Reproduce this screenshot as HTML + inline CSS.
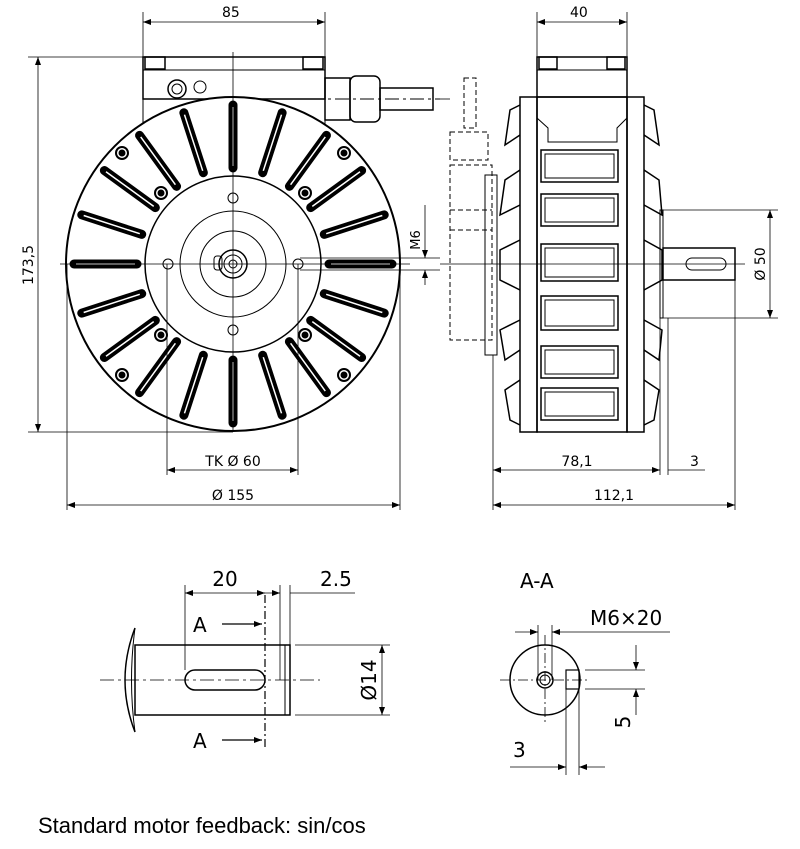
<!DOCTYPE html>
<html><head><style>
body{margin:0;background:#fff;}
svg{display:block;font-family:"DejaVu Sans","Liberation Sans",sans-serif;}
</style></head><body>
<svg width="800" height="849" viewBox="0 0 800 849" xmlns="http://www.w3.org/2000/svg">
<defs>
<marker id="a" markerWidth="8" markerHeight="6" refX="8" refY="3" orient="auto-start-reverse" markerUnits="userSpaceOnUse"><path d="M0,0 L8,3 L0,6z" fill="#000"/></marker>
</defs>
<g stroke="#000" fill="none" stroke-width="1">
<!-- FRONT VIEW -->
<rect x="143" y="57" width="182" height="42" fill="#fff" stroke-width="1.5"/>
<line x1="143" y1="70" x2="325" y2="70"/>
<rect x="145" y="57" width="20" height="12" stroke-width="1.5"/>
<rect x="303" y="57" width="20" height="12" stroke-width="1.5"/>
<line x1="143" y1="99" x2="143" y2="140"/><line x1="325" y1="99" x2="325" y2="125"/>
<circle cx="177" cy="89" r="9" stroke-width="1.5"/><circle cx="177" cy="89" r="5"/>
<circle cx="200" cy="87" r="6"/>
<rect x="325" y="78" width="25" height="42" stroke-width="1.5"/>
<rect x="350" y="76" width="30" height="46" rx="6" stroke-width="1.5"/>
<rect x="380" y="88" width="53" height="22" stroke-width="1.5"/>
<line x1="310" y1="99" x2="440" y2="99" stroke-dasharray="14,4,3,4"/>
<circle cx="233" cy="264" r="167" fill="#fff" stroke-width="2"/>
<circle cx="233" cy="264" r="88" stroke-width="1.5"/>
<circle cx="233" cy="264" r="53"/>
<circle cx="233" cy="264" r="33"/>
<circle cx="233" cy="264" r="14" stroke-width="1.5"/><circle cx="233" cy="264" r="9"/><circle cx="233" cy="264" r="4"/>
<rect x="214" y="256" width="8" height="14" rx="3"/>
<g id="fin"><line x1="233" y1="168" x2="233" y2="105" stroke-width="9" stroke-linecap="round"/><line x1="233" y1="166" x2="233" y2="107" stroke="#fff" stroke-width="1.5"/></g>
<use href="#fin" transform="rotate(18 233 264)"/><use href="#fin" transform="rotate(36 233 264)"/><use href="#fin" transform="rotate(54 233 264)"/><use href="#fin" transform="rotate(72 233 264)"/><use href="#fin" transform="rotate(90 233 264)"/><use href="#fin" transform="rotate(108 233 264)"/><use href="#fin" transform="rotate(126 233 264)"/><use href="#fin" transform="rotate(144 233 264)"/><use href="#fin" transform="rotate(162 233 264)"/><use href="#fin" transform="rotate(180 233 264)"/><use href="#fin" transform="rotate(198 233 264)"/><use href="#fin" transform="rotate(216 233 264)"/><use href="#fin" transform="rotate(234 233 264)"/><use href="#fin" transform="rotate(252 233 264)"/><use href="#fin" transform="rotate(270 233 264)"/><use href="#fin" transform="rotate(288 233 264)"/><use href="#fin" transform="rotate(306 233 264)"/><use href="#fin" transform="rotate(324 233 264)"/><use href="#fin" transform="rotate(342 233 264)"/>
<g stroke-width="2">
<circle cx="122" cy="153" r="6"/><circle cx="344" cy="153" r="6"/><circle cx="122" cy="375" r="6"/><circle cx="344" cy="375" r="6"/>
<circle cx="161" cy="193" r="6"/><circle cx="305" cy="193" r="6"/><circle cx="161" cy="335" r="6"/><circle cx="305" cy="335" r="6"/>
</g>
<g fill="#000"><circle cx="122" cy="153" r="3"/><circle cx="344" cy="153" r="3"/><circle cx="122" cy="375" r="3"/><circle cx="344" cy="375" r="3"/><circle cx="161" cy="193" r="3"/><circle cx="305" cy="193" r="3"/><circle cx="161" cy="335" r="3"/><circle cx="305" cy="335" r="3"/></g>
<circle cx="233" cy="198" r="5"/><circle cx="233" cy="330" r="5"/><circle cx="168" cy="264" r="5"/><circle cx="298" cy="264" r="5"/>
<line x1="233" y1="52" x2="233" y2="432" stroke-width="0.8"/>
<line x1="60" y1="264" x2="410" y2="264" stroke-width="0.8"/>
<line x1="143" y1="12" x2="143" y2="57" stroke-width="0.8"/><line x1="325" y1="12" x2="325" y2="57" stroke-width="0.8"/>
<line x1="143" y1="22" x2="325" y2="22" marker-start="url(#a)" marker-end="url(#a)" stroke-width="0.8"/>
<line x1="28" y1="57" x2="143" y2="57" stroke-width="0.8"/><line x1="28" y1="432" x2="233" y2="432" stroke-width="0.8"/>
<line x1="38" y1="57" x2="38" y2="432" marker-start="url(#a)" marker-end="url(#a)" stroke-width="0.8"/>
<line x1="167" y1="264" x2="167" y2="475" stroke-width="0.8"/><line x1="298" y1="264" x2="298" y2="475" stroke-width="0.8"/>
<line x1="167" y1="470" x2="298" y2="470" marker-start="url(#a)" marker-end="url(#a)" stroke-width="0.8"/>
<line x1="67" y1="264" x2="67" y2="510" stroke-width="0.8"/><line x1="400" y1="264" x2="400" y2="510" stroke-width="0.8"/>
<line x1="67" y1="505" x2="400" y2="505" marker-start="url(#a)" marker-end="url(#a)" stroke-width="0.8"/>
<line x1="300" y1="258" x2="440" y2="258" stroke-width="0.8"/><line x1="300" y1="270" x2="440" y2="270" stroke-width="0.8"/>
<line x1="425" y1="205" x2="425" y2="258" marker-end="url(#a)" stroke-width="0.8"/><line x1="425" y1="285" x2="425" y2="270" marker-end="url(#a)" stroke-width="0.8"/>

<!-- SIDE VIEW -->
<g stroke-dasharray="5,3">
<rect x="464" y="78" width="12" height="50"/>
<rect x="450" y="132" width="38" height="28"/>
<rect x="450" y="165" width="42" height="175"/>
<line x1="450" y1="210" x2="492" y2="210"/><line x1="450" y1="230" x2="492" y2="230"/>
</g>
<line x1="440" y1="99" x2="450" y2="99" stroke-width="0.8"/>
<rect x="485" y="175" width="12" height="180"/>
<rect x="537" y="57" width="90" height="40" stroke-width="1.5"/>
<line x1="537" y1="70" x2="627" y2="70"/>
<rect x="539" y="57" width="18" height="12" stroke-width="1.5"/><rect x="607" y="57" width="18" height="12" stroke-width="1.5"/>
<rect x="520" y="97" width="17" height="335" stroke-width="1.5"/>
<rect x="627" y="97" width="17" height="335" stroke-width="1.5"/>
<rect x="537" y="97" width="90" height="335" stroke-width="1.5"/>
<path d="M537 97 V118 L548 128 V142 H617 V128 L627 118 V97"/>
<g stroke-width="1.5">
<rect x="541" y="150" width="77" height="32"/><rect x="541" y="194" width="77" height="32"/><rect x="541" y="244" width="77" height="37"/><rect x="541" y="296" width="77" height="34"/><rect x="541" y="346" width="77" height="32"/><rect x="541" y="388" width="77" height="32"/>
</g>
<g>
<rect x="545" y="154" width="69" height="24"/><rect x="545" y="198" width="69" height="24"/><rect x="545" y="248" width="69" height="29"/><rect x="545" y="300" width="69" height="26"/><rect x="545" y="350" width="69" height="24"/><rect x="545" y="392" width="69" height="24"/>
</g>
<g stroke-width="1.5">
<path d="M520 105 L510 110 L505 145 L520 135 M520 170 L505 180 L500 215 L520 205 M520 240 L500 250 L500 280 L520 290 M520 320 L500 330 L505 360 L520 350 M520 380 L505 390 L510 420 L520 425"/>
<path d="M644 105 L654 110 L659 145 L644 135 M644 170 L659 180 L662 215 L644 205 M644 240 L662 250 L662 280 L644 290 M644 320 L662 330 L659 360 L644 350 M644 380 L659 390 L654 420 L644 425"/>
</g>
<rect x="660" y="210" width="3" height="108"/>
<rect x="663" y="248" width="72" height="32" stroke-width="1.5"/>
<rect x="686" y="258" width="40" height="12" rx="6"/>
<line x1="440" y1="264" x2="745" y2="264" stroke-width="0.8"/>
<line x1="537" y1="12" x2="537" y2="57" stroke-width="0.8"/><line x1="627" y1="12" x2="627" y2="57" stroke-width="0.8"/>
<line x1="537" y1="22" x2="627" y2="22" marker-start="url(#a)" marker-end="url(#a)" stroke-width="0.8"/>
<line x1="663" y1="210" x2="778" y2="210" stroke-width="0.8"/><line x1="663" y1="318" x2="778" y2="318" stroke-width="0.8"/>
<line x1="770" y1="210" x2="770" y2="318" marker-start="url(#a)" marker-end="url(#a)" stroke-width="0.8"/>
<line x1="493" y1="355" x2="493" y2="510" stroke-width="0.8"/><line x1="660" y1="318" x2="660" y2="475" stroke-width="0.8"/><line x1="668" y1="318" x2="668" y2="475" stroke-width="0.8"/><line x1="735" y1="280" x2="735" y2="510" stroke-width="0.8"/>
<line x1="493" y1="470" x2="660" y2="470" marker-start="url(#a)" marker-end="url(#a)" stroke-width="0.8"/>
<line x1="668" y1="470" x2="705" y2="470" stroke-width="0.8"/>
<line x1="493" y1="505" x2="735" y2="505" marker-start="url(#a)" marker-end="url(#a)" stroke-width="0.8"/>

<!-- SHAFT DETAIL -->
<path d="M135 628 Q115 680 135 732" stroke-width="1.5"/>
<path d="M135 628 Q128 680 135 732"/>
<rect x="135" y="645" width="155" height="70" stroke-width="1.5"/>
<line x1="285" y1="645" x2="285" y2="715"/>
<rect x="185" y="670" width="80" height="20" rx="10" stroke-width="1.5"/>
<line x1="100" y1="680" x2="320" y2="680" stroke-dasharray="14,4,3,4" stroke-width="0.8"/>
<line x1="265" y1="595" x2="265" y2="750" stroke-dasharray="8,3,2,3" stroke-width="1.2"/>
<line x1="185" y1="585" x2="185" y2="670" stroke-width="0.8"/><line x1="280" y1="585" x2="280" y2="680" stroke-width="0.8"/><line x1="290" y1="585" x2="290" y2="645" stroke-width="0.8"/>
<line x1="185" y1="593" x2="265" y2="593" marker-start="url(#a)" marker-end="url(#a)" stroke-width="0.8"/>
<line x1="290" y1="593" x2="355" y2="593" stroke-width="0.8"/>
<line x1="260" y1="593" x2="280" y2="593" marker-end="url(#a)" stroke-width="0.8"/>
<line x1="295" y1="645" x2="390" y2="645" stroke-width="0.8"/><line x1="295" y1="715" x2="390" y2="715" stroke-width="0.8"/>
<line x1="382" y1="645" x2="382" y2="715" marker-start="url(#a)" marker-end="url(#a)" stroke-width="0.8"/>
<line x1="222" y1="624" x2="262" y2="624" marker-end="url(#a)" stroke-width="1.2"/>
<line x1="222" y1="740" x2="262" y2="740" marker-end="url(#a)" stroke-width="1.2"/>

<!-- A-A -->
<circle cx="545" cy="680" r="35" stroke-width="1.5"/>
<circle cx="545" cy="680" r="8" stroke-width="1.5"/><circle cx="545" cy="680" r="5"/>
<rect x="566" y="670" width="13" height="19" stroke-width="1.2"/>
<line x1="500" y1="680" x2="590" y2="680" stroke-dasharray="10,3,2,3" stroke-width="0.8"/>
<line x1="545" y1="635" x2="545" y2="725" stroke-dasharray="10,3,2,3" stroke-width="0.8"/>
<line x1="538" y1="625" x2="538" y2="680" stroke-width="0.8"/><line x1="552" y1="625" x2="552" y2="680" stroke-width="0.8"/>
<line x1="515" y1="632" x2="538" y2="632" marker-end="url(#a)" stroke-width="0.8"/>
<line x1="552" y1="632" x2="670" y2="632" stroke-width="0.8"/>
<line x1="558" y1="632" x2="552" y2="632" marker-end="url(#a)" stroke-width="0.8"/>
<line x1="585" y1="670" x2="645" y2="670" stroke-width="0.8"/><line x1="585" y1="689" x2="645" y2="689" stroke-width="0.8"/>
<line x1="636" y1="645" x2="636" y2="670" marker-end="url(#a)" stroke-width="0.8"/>
<line x1="636" y1="715" x2="636" y2="689" marker-end="url(#a)" stroke-width="0.8"/>
<line x1="566" y1="689" x2="566" y2="775" stroke-width="0.8"/><line x1="579" y1="689" x2="579" y2="775" stroke-width="0.8"/>
<line x1="510" y1="767" x2="566" y2="767" marker-end="url(#a)" stroke-width="0.8"/>
<line x1="605" y1="767" x2="579" y2="767" marker-end="url(#a)" stroke-width="0.8"/>
</g>
<g font-size="14" fill="#000">
<text x="222" y="17">85</text>
<text x="570" y="17">40</text>
<text transform="translate(33,265) rotate(-90)" text-anchor="middle">173,5</text>
<text transform="translate(420,240) rotate(-90)" text-anchor="middle" font-size="13">M6</text>
<text x="233" y="466" text-anchor="middle">TK Ø 60</text>
<text x="233" y="500" text-anchor="middle">Ø 155</text>
<text x="577" y="466" text-anchor="middle">78,1</text>
<text x="690" y="466">3</text>
<text x="614" y="500" text-anchor="middle">112,1</text>
<text transform="translate(765,264) rotate(-90)" text-anchor="middle">Ø 50</text>
</g>
<g font-size="20" fill="#000">
<text x="225" y="586" text-anchor="middle">20</text>
<text x="320" y="586">2.5</text>
<text transform="translate(376,680) rotate(-90)" text-anchor="middle">Ø14</text>
<text x="193" y="632">A</text>
<text x="193" y="748">A</text>
<text x="520" y="588">A-A</text>
<text x="590" y="625">M6×20</text>
<text transform="translate(630,722) rotate(-90)" text-anchor="middle">5</text>
<text x="513" y="757">3</text>
<text x="38" y="833" font-family="Liberation Sans, sans-serif" font-size="22">Standard motor feedback: sin/cos</text>
</g>
</svg>
</body></html>
